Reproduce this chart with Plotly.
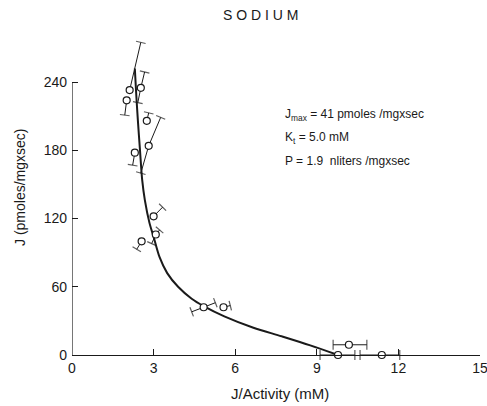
import plotly.graph_objects as go

# ---- data ----
curve_x = [2.31, 2.36, 2.42, 2.50, 2.58, 2.68, 2.85, 3.00, 3.22, 3.50, 3.90, 4.40, 4.84, 5.60, 6.67, 7.70, 8.76, 9.78]
curve_y = [252, 230, 207, 180, 154, 136, 116, 104, 86, 72, 60, 49.5, 43, 34, 24, 16.5, 8.5, 0]

pts_x = [2.12, 2.53, 2.01, 2.75, 2.82, 2.31, 3.00, 3.08, 2.56, 4.84, 5.57, 10.18, 9.78, 11.39]
pts_y = [233, 235, 224, 206, 184, 178, 122, 106, 100, 42, 42, 9, 0, 0]

# error-bar ends: owning point index, end x, end y
bar_pt = [0, 1, 1, 2, 3, 4, 4, 5, 6, 7, 7, 8, 9, 9, 10, 11, 11, 12, 12, 13, 13]
bar_x = [2.53, 2.67, 2.42, 1.94, 2.82, 3.26, 2.53, 2.23, 3.33, 3.22, 2.93, 2.38, 4.40, 5.27, 5.82, 9.60, 10.84, 9.12, 10.40, 10.59, 12.05]
bar_y = [275, 249, 222, 211, 213, 209, 160, 167, 130, 110, 98, 93, 38, 46, 43.5, 9, 9, 0, 0, 0, 0]

x_ticks = [0, 3, 6, 9, 12, 15]
y_ticks = [0, 60, 120, 180, 240]

title_text = "S O D I U M"
x_title = "J/Activity (mM)"
y_title = "J (pmoles/mgxsec)"
info_lines = [
    "J<sub>max</sub> = 41 pmoles /mgxsec",
    "K<sub>t</sub> = 5.0 mM",
    "P = 1.9  nliters /mgxsec",
]
info_y = [211, 191, 171]

FONT = "Liberation Sans"
INK = "#1a1a1a"

fig = go.Figure()

# fitted curve
fig.add_trace(go.Scatter(
    x=curve_x, y=curve_y, mode="lines",
    line=dict(color=INK, width=2, shape="spline", smoothing=0.8),
    hoverinfo="skip", showlegend=False,
))

# error bars (segment from point to end, capped at the end)
ex, ey, sizes = [], [], []
for i, bx, by in zip(bar_pt, bar_x, bar_y):
    ex += [pts_x[i], bx, None]
    ey += [pts_y[i], by, None]
    sizes += [0, 7, 0]
fig.add_trace(go.Scatter(
    x=ex, y=ey, mode="lines+markers",
    line=dict(color=INK, width=1),
    marker=dict(symbol="line-ew", size=sizes, angleref="previous",
                line=dict(color=INK, width=1.2)),
    cliponaxis=False, hoverinfo="skip", showlegend=False,
))

# data points
fig.add_trace(go.Scatter(
    x=pts_x, y=pts_y, mode="markers",
    marker=dict(symbol="circle", size=7, color="white",
                line=dict(color=INK, width=1.2)),
    cliponaxis=False, showlegend=False,
))

# y axis line only up to 240
fig.add_shape(type="line", xref="x", yref="y", x0=0, x1=0, y0=0, y1=y_ticks[-1],
              line=dict(color=INK, width=1.2))

annotations = [
    dict(text=title_text, xref="paper", yref="paper", x=(260 - 72) / 408, y=1 + (31 - 15) / 324,
         xanchor="center", yanchor="middle", showarrow=False,
         font=dict(family=FONT, size=14, color=INK)),
    dict(text=x_title, xref="paper", yref="paper", x=(280 - 72) / 408, y=-(393 - 355) / 324,
         xanchor="center", yanchor="middle", showarrow=False,
         font=dict(family=FONT, size=15, color=INK)),
    dict(text=y_title, xref="paper", yref="paper", x=-(72 - 20) / 408, y=(355 - 188) / 324,
         xanchor="center", yanchor="middle", textangle=-90, showarrow=False,
         font=dict(family=FONT, size=14, color=INK)),
]
for t, yy in zip(info_lines, info_y):
    annotations.append(dict(text=t, xref="x", yref="y", x=7.77, y=yy,
                            xanchor="left", yanchor="middle", showarrow=False,
                            font=dict(family=FONT, size=12, color=INK)))

fig.update_layout(
    width=487, height=406,
    margin=dict(l=72, r=7, t=31, b=51, autoexpand=False),
    paper_bgcolor="white", plot_bgcolor="white",
    font=dict(family=FONT, color=INK),
    annotations=annotations,
    xaxis=dict(range=[0, 15], tickvals=x_ticks, ticks="inside", ticklen=6,
               tickcolor=INK, showline=True, linecolor=INK, linewidth=1.2,
               showgrid=False, zeroline=False, ticklabeloverflow="allow",
               automargin=False,
               tickfont=dict(family=FONT, size=14, color=INK)),
    yaxis=dict(range=[0, 285], tickvals=y_ticks, ticks="inside", ticklen=6,
               tickcolor=INK, showline=False, showgrid=False, zeroline=False,
               ticklabelstandoff=4, automargin=False,
               tickfont=dict(family=FONT, size=14, color=INK)),
)

fig.write_html("out.html")
